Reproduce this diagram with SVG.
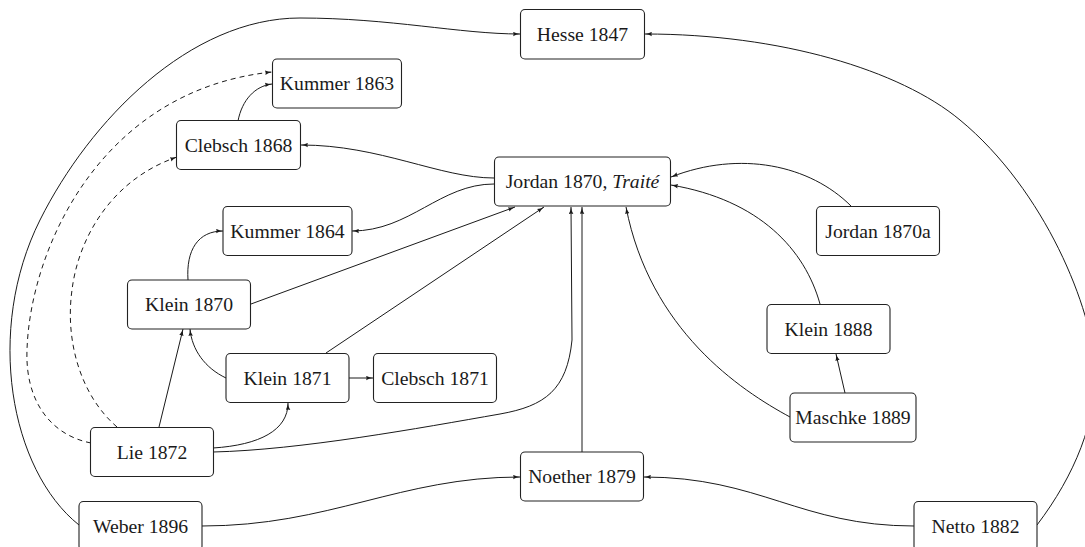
<svg xmlns="http://www.w3.org/2000/svg" width="1085" height="547" viewBox="0 0 1085 547">
<defs>
<style>
.box{fill:#fff;stroke:#222;stroke-width:1.1}
.lbl{font-family:"Liberation Serif","Times New Roman",serif;font-size:19.7px;fill:#1a1a1a;text-anchor:middle}
.e{fill:none;stroke:#1a1a1a;stroke-width:1;marker-end:url(#ah)}
.n{fill:none;stroke:#1a1a1a;stroke-width:1}
.d{stroke-dasharray:5,4}
</style>
<marker id="ah" viewBox="0 0 7 5" refX="7" refY="2.5" markerWidth="7" markerHeight="5" orient="auto" markerUnits="userSpaceOnUse">
<path d="M0,0.2 Q3,2 7,2.5 Q3,3 0,4.8 Q1.2,2.5 0,0.2 z" fill="#1a1a1a"/>
</marker>
</defs>
<rect width="1085" height="547" fill="#fff"/>
<g id="connectors">
<path class="e" d="M79,525 C10,470 -15,330 40,220 C90,120 190,18 300,18 C390,18 460,34 520,34"/>
<path class="e" d="M1037,525 C1075,475 1097,420 1095,370 C1093,310 1045,190 960,120 C900,70 780,34 645,34"/>
<path class="e d" d="M91,443 C50,435 25,400 27,350 C30,250 100,90 272,72"/>
<path class="e d" d="M117,427 C80,395 65,340 72,290 C78,240 110,180 177,157"/>
<path class="e" d="M238,121 C242,100 255,86 272,84"/>
<path class="e" d="M494,178 C440,178 380,145 301,145"/>
<path class="e" d="M494,184 C440,184 410,231 352,231"/>
<path class="e" d="M188,280 C186,250 198,231 223,231"/>
<path class="e" d="M251,304 L515,207"/>
<path class="e" d="M326,353 L544,207"/>
<path class="e" d="M226,378 C205,368 192,350 190,329"/>
<path class="e" d="M159,427 L183,329"/>
<path class="e" d="M349,378 L373,378"/>
<path class="e" d="M213,448 C260,445 288,430 288,403"/>
<path class="e" d="M213,452 C300,450 420,428 500,414 C545,406 567,390 572,340 L571,207"/>
<path class="e" d="M582,452 L582,207"/>
<path class="e" d="M790,417 C740,390 650,330 626,207"/>
<path class="e" d="M820,304 C805,250 760,200 671,185"/>
<path class="e" d="M851,206 C810,165 740,150 671,177"/>
<path class="e" d="M845,393 L836,354"/>
<path class="e" d="M202,526 C330,526 400,477 520,477"/>
<path class="e" d="M914,526 C800,526 760,477 644,477"/>
</g>
<g id="hesse1847"><rect class="box" x="520.5" y="9.5" width="124" height="49.5" rx="4.5"/><text class="lbl" x="582.5" y="41.2">Hesse 1847</text></g>
<g id="kummer1863"><rect class="box" x="272.5" y="59" width="129" height="49" rx="4.5"/><text class="lbl" x="337" y="90.2">Kummer 1863</text></g>
<g id="clebsch1868"><rect class="box" x="176.5" y="120.5" width="124" height="49" rx="4.5"/><text class="lbl" x="238.5" y="151.7">Clebsch 1868</text></g>
<g id="jordan1870"><rect class="box" x="494.5" y="157" width="176" height="49" rx="4.5"/><text class="lbl" x="582.5" y="188.2">Jordan 1870, <tspan font-style="italic">Traité</tspan></text></g>
<g id="kummer1864"><rect class="box" x="223" y="206.5" width="129" height="49" rx="4.5"/><text class="lbl" x="287.5" y="237.7">Kummer 1864</text></g>
<g id="jordan1870a"><rect class="box" x="816.5" y="206.5" width="123" height="49" rx="4.5"/><text class="lbl" x="878" y="237.7">Jordan 1870a</text></g>
<g id="klein1870"><rect class="box" x="127.5" y="280" width="123" height="49" rx="4.5"/><text class="lbl" x="189" y="311.2">Klein 1870</text></g>
<g id="klein1871"><rect class="box" x="226" y="353.5" width="123" height="49" rx="4.5"/><text class="lbl" x="287.5" y="384.7">Klein 1871</text></g>
<g id="clebsch1871"><rect class="box" x="373.5" y="353.5" width="123" height="49" rx="4.5"/><text class="lbl" x="435" y="384.7">Clebsch 1871</text></g>
<g id="lie1872"><rect class="box" x="90.5" y="427.5" width="123" height="49" rx="4.5"/><text class="lbl" x="152" y="458.7">Lie 1872</text></g>
<g id="klein1888"><rect class="box" x="767" y="304.5" width="123" height="49" rx="4.5"/><text class="lbl" x="828.5" y="335.7">Klein 1888</text></g>
<g id="maschke1889"><rect class="box" x="790" y="393" width="126" height="49" rx="4.5"/><text class="lbl" x="853" y="424.2">Maschke 1889</text></g>
<g id="noether1879"><rect class="box" x="520.5" y="452" width="123" height="49" rx="4.5"/><text class="lbl" x="582" y="483.2">Noether 1879</text></g>
<g id="weber1896"><rect class="box" x="79" y="501.5" width="123" height="49" rx="4.5"/><text class="lbl" x="140.5" y="532.7">Weber 1896</text></g>
<g id="netto1882"><rect class="box" x="914" y="501.5" width="123" height="49" rx="4.5"/><text class="lbl" x="975.5" y="532.7">Netto 1882</text></g>
</svg>
